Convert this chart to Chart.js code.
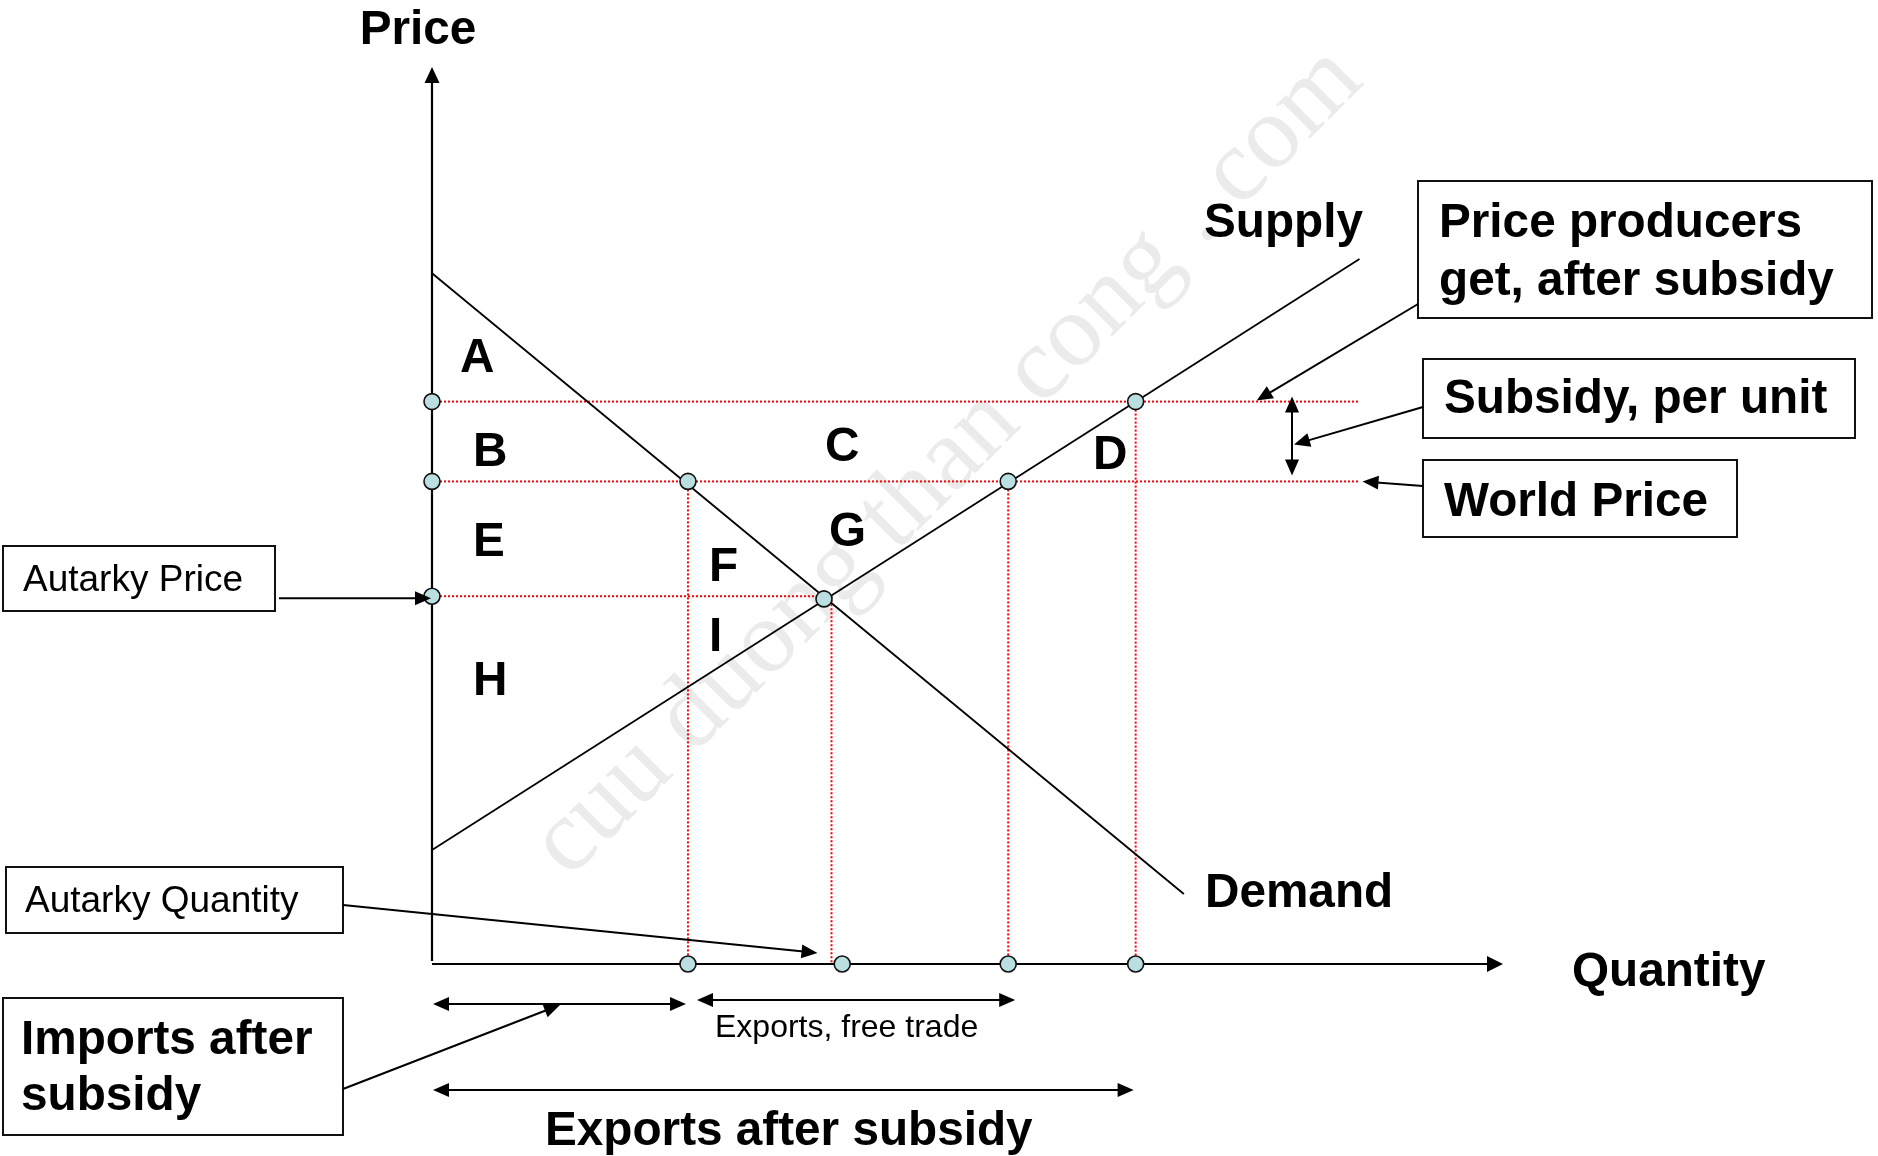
<!DOCTYPE html>
<html>
<head>
<meta charset="utf-8">
<script src="https://cdn.jsdelivr.net/npm/chart.js@4/dist/chart.umd.min.js"></script>
<style>
  html, body { margin: 0; padding: 0; background: #ffffff; }
  #wrap { width: 1878px; height: 1156px; position: relative; }
</style>
</head>
<body>
<div id="wrap"><canvas id="c"></canvas></div>
<script>
// ---------------- data ----------------
const supplyQ = [0, 86.6];
const supplyP = [12.7, 78.6];
const demandQ = [0, 70.2];
const demandP = [77.0, 7.8];

// price levels: producer price after subsidy, world price, autarky price
const priceLevelNames = ['Price producers get, after subsidy', 'World Price', 'Autarky Price'];
const priceLevels = [62.7, 53.8, 41.0];
const priceGuideEndQ = [86.6, 86.6, 36.6];

// quantity marks: Qd at world price, autarky Q, Qs at world price, Qs at producer price
const quantityMarks = [23.9, 37.3, 53.8, 65.7];
const quantityGuideTopP = [53.8, 41.0, 53.8, 62.7];
const axisDotQ = [23.9, 38.3, 53.8, 65.7];

// marked points on the curves
const curveDotQ = [23.9, 53.8, 65.7, 36.6];
const curveDotP = [53.8, 53.8, 62.7, 40.7];

const areaLabels = ['A', 'B', 'C', 'D', 'E', 'F', 'G', 'H', 'I'];

// ---------------- datasets built from the arrays ----------------
const RED = '#ff0000';
const datasets = [];

const dotData = [];
priceLevels.forEach(p => dotData.push({x: 0, y: p}));
axisDotQ.forEach(q => dotData.push({x: q, y: 0}));
curveDotQ.forEach((q, i) => dotData.push({x: q, y: curveDotP[i]}));
datasets.push({
  label: 'points', data: dotData, showLine: false, order: 0, clip: false,
  pointRadius: 8, pointHoverRadius: 8, pointBackgroundColor: '#bbdfe1',
  pointBorderColor: '#111111', pointBorderWidth: 1.6
});

datasets.push({
  label: 'Supply', data: supplyQ.map((q, i) => ({x: q, y: supplyP[i]})),
  showLine: true, borderColor: '#000', borderWidth: 1.8, pointRadius: 0, order: 1, clip: false
});
datasets.push({
  label: 'Demand', data: demandQ.map((q, i) => ({x: q, y: demandP[i]})),
  showLine: true, borderColor: '#000', borderWidth: 1.8, pointRadius: 0, order: 1, clip: false
});

priceLevels.forEach((p, i) => {
  datasets.push({
    label: 'guide-' + priceLevelNames[i], data: [{x: 0, y: p}, {x: priceGuideEndQ[i], y: p}],
    showLine: true, borderColor: RED, borderWidth: 2, borderDash: [2, 2], pointRadius: 0, order: 2, clip: false
  });
});
quantityMarks.forEach((q, i) => {
  datasets.push({
    label: 'vguide-' + i, data: [{x: q, y: quantityGuideTopP[i]}, {x: q, y: 0}],
    showLine: true, borderColor: RED, borderWidth: 2, borderDash: [2, 2], pointRadius: 0, order: 2, clip: false
  });
});

// ---------------- drawing helpers ----------------
const BOLD = 'bold 47.7px "Liberation Sans", Arial, sans-serif';
const REG37 = '37px "Liberation Sans", Arial, sans-serif';
const REG32 = '32px "Liberation Sans", Arial, sans-serif';

function head(ctx, x1, y1, x2, y2, len, w) {
  const a = Math.atan2(y2 - y1, x2 - x1);
  ctx.beginPath();
  ctx.moveTo(x2, y2);
  ctx.lineTo(x2 - len * Math.cos(a) + (w / 2) * Math.sin(a), y2 - len * Math.sin(a) - (w / 2) * Math.cos(a));
  ctx.lineTo(x2 - len * Math.cos(a) - (w / 2) * Math.sin(a), y2 - len * Math.sin(a) + (w / 2) * Math.cos(a));
  ctx.closePath();
  ctx.fill();
}
function arrow(ctx, x1, y1, x2, y2, both) {
  const len = 16, w = 14;
  const a = Math.atan2(y2 - y1, x2 - x1);
  let sx = x1, sy = y1;
  if (both) { sx = x1 + (len - 2) * Math.cos(a); sy = y1 + (len - 2) * Math.sin(a); }
  const ex = x2 - (len - 2) * Math.cos(a), ey = y2 - (len - 2) * Math.sin(a);
  ctx.beginPath(); ctx.moveTo(sx, sy); ctx.lineTo(ex, ey); ctx.stroke();
  head(ctx, x1, y1, x2, y2, len, w);
  if (both) head(ctx, x2, y2, x1, y1, len, w);
}
function box(ctx, x, y, w, h) {
  ctx.save(); ctx.lineWidth = 2; ctx.strokeStyle = '#111';
  ctx.strokeRect(x, y, w, h); ctx.restore();
}
function text(ctx, s, x, y, font, align) {
  ctx.font = font; ctx.textAlign = align || 'left'; ctx.textBaseline = 'alphabetic';
  ctx.fillText(s, x, y);
}

// layout (pixel positions of labels)
const areaLabelPos = [[460, 372], [473, 466], [825, 461], [1093, 469], [473, 556], [709, 581], [829, 546], [473, 695], [709, 651]];

const decor = {
  id: 'decor',
  beforeDatasetsDraw(chart) {
    const ctx = chart.ctx, xs = chart.scales.x, ys = chart.scales.y;
    ctx.save();
    ctx.save();
    ctx.translate(948, 462);
    ctx.rotate(-Math.PI / 4);
    ctx.fillStyle = '#ebebeb';
    ctx.font = '104px "Liberation Serif", "DejaVu Serif", serif';
    ctx.textAlign = 'center'; ctx.textBaseline = 'middle';
    ctx.fillText('cuu duong than cong . com', 0, 0);
    ctx.restore();
    const x0 = xs.getPixelForValue(0), y0 = ys.getPixelForValue(0);
    ctx.strokeStyle = '#000'; ctx.fillStyle = '#000'; ctx.lineWidth = 2.2;
    ctx.beginPath(); ctx.moveTo(x0, y0 - 3); ctx.lineTo(x0, chart.chartArea.top + 14); ctx.stroke();
    head(ctx, x0, y0, x0, chart.chartArea.top, 16, 15);
    ctx.beginPath(); ctx.moveTo(x0, y0); ctx.lineTo(chart.chartArea.right - 14, y0); ctx.stroke();
    head(ctx, x0, y0, chart.chartArea.right, y0, 16, 16);
    ctx.restore();
  },
  afterDatasetsDraw(chart) {
    const ctx = chart.ctx, xs = chart.scales.x, ys = chart.scales.y;
    const X = v => xs.getPixelForValue(v), Y = v => ys.getPixelForValue(v);
    ctx.save();
    ctx.fillStyle = '#000'; ctx.strokeStyle = '#000'; ctx.lineWidth = 2;

    text(ctx, 'Price', 418, 44, BOLD, 'center');
    text(ctx, 'Quantity', 1572, 986, BOLD);
    text(ctx, 'Supply', 1204, 237, BOLD);
    text(ctx, 'Demand', 1205, 907, BOLD);

    areaLabels.forEach((s, i) => text(ctx, s, areaLabelPos[i][0], areaLabelPos[i][1], BOLD));

    box(ctx, 1418, 181, 454, 137);
    text(ctx, 'Price producers', 1439, 237, BOLD);
    text(ctx, 'get, after subsidy', 1439, 295, BOLD);
    box(ctx, 1423, 359, 432, 79);
    text(ctx, 'Subsidy, per unit', 1444, 413, BOLD);
    box(ctx, 1423, 460, 314, 77);
    text(ctx, 'World Price', 1444, 516, BOLD);
    box(ctx, 3, 546, 272, 65);
    text(ctx, 'Autarky Price', 23, 591, REG37);
    box(ctx, 6, 867, 337, 66);
    text(ctx, 'Autarky Quantity', 25, 912, REG37);
    box(ctx, 3, 998, 340, 137);
    text(ctx, 'Imports after', 21, 1054, BOLD);
    text(ctx, 'subsidy', 21, 1110, BOLD);

    arrow(ctx, X(80.3), Y(priceLevels[0]) - 5, X(80.3), Y(priceLevels[1]) - 6, true);

    arrow(ctx, 1418, 304, X(77.0), Y(priceLevels[0]) - 1);
    arrow(ctx, 1423, 407, X(80.3) + 2, Y((priceLevels[0] + priceLevels[1]) / 2) + 3);
    arrow(ctx, 1423, 486, X(priceGuideEndQ[1]) + 3, Y(priceLevels[1]));
    arrow(ctx, 279, Y(priceLevels[2]) + 2, X(0) - 1, Y(priceLevels[2]) + 2);
    arrow(ctx, 343, 905, X(quantityMarks[1]) - 14, Y(0) - 11);

    arrow(ctx, X(0) + 1, 1004, X(quantityMarks[0]) - 2, 1004, true);
    arrow(ctx, X(quantityMarks[0]) + 9, 1000, X(quantityMarks[2]) + 7, 1000, true);
    arrow(ctx, X(0) + 1, 1090, X(quantityMarks[3]) - 2, 1090, true);
    arrow(ctx, 343, 1089, X(quantityMarks[0] / 2), 1005);

    text(ctx, 'Exports, free trade', 715, 1037, REG32);
    text(ctx, 'Exports after subsidy', 545, 1145, BOLD);
    ctx.restore();
  }
};

new Chart(document.getElementById('c'), {
  type: 'scatter',
  data: { datasets },
  options: {
    responsive: true, maintainAspectRatio: false, animation: false,
    layout: { padding: { left: 432, top: 67, right: 375, bottom: 192 } },
    scales: {
      x: { type: 'linear', min: 0, max: 100, display: false },
      y: { type: 'linear', min: 0, max: 100, display: false }
    },
    plugins: { legend: { display: false }, tooltip: { enabled: false } },
    events: []
  },
  plugins: [decor]
});
</script>
</body>
</html>
